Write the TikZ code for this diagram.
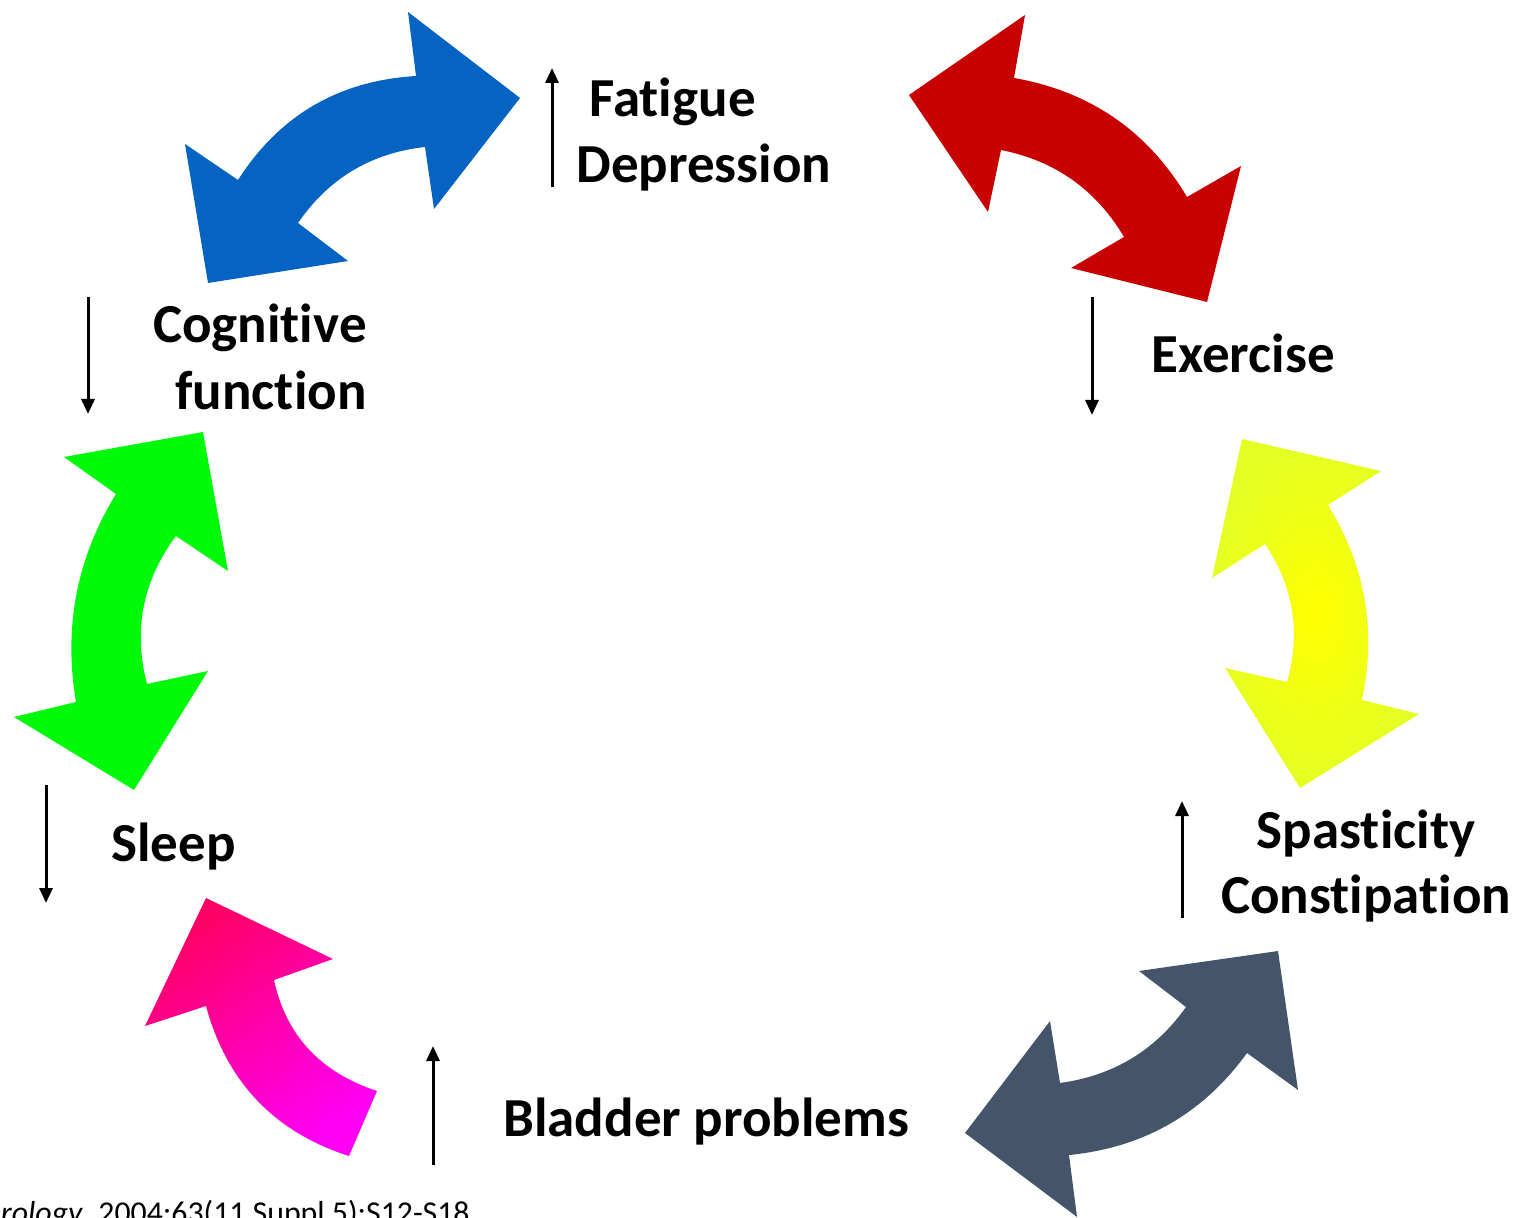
\documentclass[tikz,border=0pt]{standalone}
\usepackage{fontspec}
\setmainfont{Carlito}[RawFeature={-liga;-calt;-clig;-dlig;-rlig}]
\usetikzlibrary{arrows.meta,calc}
\newcommand\tisep{\kern0pt\relax}
\definecolor{cblue}{RGB}{5,99,193}
\definecolor{cred}{RGB}{200,0,0}
\definecolor{cgreen}{RGB}{0,250,10}
\definecolor{cyellowA}{RGB}{255,255,0}
\definecolor{cyellowB}{RGB}{228,255,36}
\definecolor{cslate}{RGB}{68,84,106}
\definecolor{cpinkA}{RGB}{255,0,100}
\definecolor{cpinkB}{RGB}{255,0,245}
\tikzset{
  lbl/.style={inner sep=0pt, font=\fontsize{27.5}{33}\selectfont\bfseries},
  cite/.style={inner sep=0pt, font=\fontsize{15.9}{19}\selectfont},
  trend/.style={line width=1.5pt, -{Triangle[length=7.5pt,width=6.5pt]}},
}
\begin{document}
\begin{tikzpicture}[x=0.5pt,y=-0.5pt]
\useasboundingbox (0,0) rectangle (1518,1218);

% blue double arrow
\fill[cblue] (208,283) -- (348,261) -- (298,223)
  .. controls ($(298,223)!2/3!(344,156)$) and ($(425,147)!2/3!(344,156)$) .. (425,147)
  -- (434,209) -- (520,98) -- (408,12) -- (416,76)
  .. controls ($(416,76)!2/3!(300,83)$) and ($(238,180)!2/3!(300,83)$) .. (238,180)
  -- (185,144) -- cycle;

% red double arrow
\fill[cred] (909,95) -- (1025,15) -- (1014,78)
  .. controls ($(1014,78)!2/3!(1128,98)$) and ($(1187,197)!2/3!(1128,98)$) .. (1187,197)
  -- (1241,166) -- (1207,302) -- (1071,268) -- (1124,237)
  .. controls ($(1124,237)!2/3!(1082,166)$) and ($(1001,150)!2/3!(1082,166)$) .. (1001,150)
  -- (988,212) -- cycle;

% green double arrow
\fill[cgreen] (203,432) -- (228,571) -- (176,536)
  .. controls ($(176,536)!2/3!(126,603)$) and ($(147,684)!2/3!(126,603)$) .. (147,684)
  -- (208,671) -- (134,790) -- (14,717) -- (76,702)
  .. controls ($(76,702)!2/3!(57,590)$) and ($(116,494)!2/3!(57,590)$) .. (116,494)
  -- (64,457) -- cycle;

% yellow double arrow
\shade[inner color=cyellowA, outer color=cyellowB] (1242,439) -- (1381,471) -- (1328,505)
  .. controls ($(1328,505)!2/3!(1384,596)$) and ($(1362,700)!2/3!(1384,596)$) .. (1362,700)
  -- (1419,714) -- (1300,788) -- (1225,668) -- (1287,682)
  .. controls ($(1287,682)!2/3!(1308,608)$) and ($(1265,544)!2/3!(1308,608)$) .. (1265,544)
  -- (1212,578) -- cycle;

% slate double arrow
\fill[cslate] (1278,951) -- (1298,1090) -- (1247,1053)
  .. controls ($(1247,1053)!2/3!(1181,1144)$) and ($(1069,1155)!2/3!(1181,1144)$) .. (1069,1155)
  -- (1077,1217) -- (965,1133) -- (1050,1021) -- (1060,1083)
  .. controls ($(1060,1083)!2/3!(1140,1072)$) and ($(1186,1007)!2/3!(1140,1072)$) .. (1186,1007)
  -- (1139,971) -- cycle;

% pink single arrow
\shade[top color=cpinkA, bottom color=cpinkB, shading angle=35] (206,898) -- (333,959) -- (274,980)
  .. controls ($(274,980)!2/3!(292,1063)$) and ($(377,1091)!2/3!(292,1063)$) .. (377,1091)
  -- (349,1156)
  .. controls ($(349,1156)!2/3!(237,1120)$) and ($(206,1006)!2/3!(237,1120)$) .. (206,1006)
  -- (145,1026) -- cycle;

% labels
\node[lbl, anchor=base west] (fatigue) at (589,117) {Fat\tisep igue};
\node[lbl, anchor=base west] (depression) at (576,183) {Depression};
\node[lbl, anchor=base east] (cognitive) at (367,343) {Cognit\tisep ive};
\node[lbl, anchor=base east] (function) at (367,410) {function};
\node[lbl, anchor=base west] (exercise) at (1151,373) {Exercise};
\node[lbl, anchor=base west] (sleep) at (111,861) {Sleep};
\node[lbl, anchor=base west] (bladder) at (503,1136) {Bladder problems};
\node[lbl, anchor=base] (spasticity) at (1366,848) {Spast\tisep icity};
\node[lbl, anchor=base] (constipation) at (1366,913) {Const\tisep ipat\tisep ion};
\node[cite, anchor=base east] (citation) at (470,1223) {\textit{Neurology.} 2004;63(11 Suppl 5):S12-S18};

% trend arrows
\coordinate (fa0) at (552,187); \coordinate (fa1) at (552,68);
\coordinate (co0) at (88,297);  \coordinate (co1) at (88,414);
\coordinate (ex0) at (1092,297); \coordinate (ex1) at (1092,415);
\coordinate (sl0) at (46,785);  \coordinate (sl1) at (46,903);
\coordinate (bl0) at (433,1165); \coordinate (bl1) at (433,1046);
\coordinate (sp0) at (1182,918); \coordinate (sp1) at (1182,801);
\draw[trend] (fa0) -- (fa1);
\draw[trend] (co0) -- (co1);
\draw[trend] (ex0) -- (ex1);
\draw[trend] (sl0) -- (sl1);
\draw[trend] (bl0) -- (bl1);
\draw[trend] (sp0) -- (sp1);
\end{tikzpicture}
\end{document}
